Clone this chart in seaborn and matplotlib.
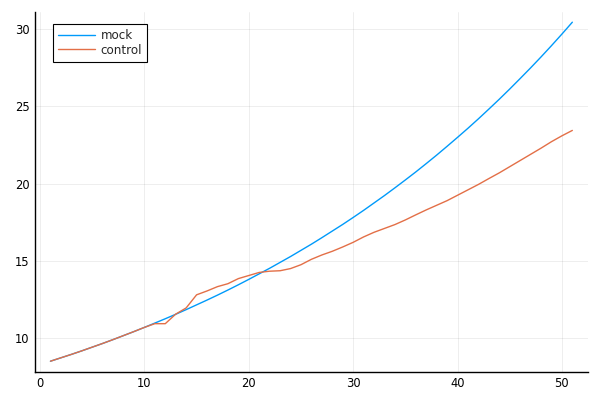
import numpy as np
import pandas as pd
import matplotlib
matplotlib.use("Agg")
import matplotlib.pyplot as plt
import seaborn as sns

# --- DATA ---
steps = list(range(1, 52))
mock = [8.50, 8.72, 8.94, 9.17, 9.41, 9.65, 9.90, 10.16, 10.42, 10.69,
        10.97, 11.25, 11.54, 11.84, 12.15, 12.46, 12.78, 13.11, 13.45, 13.80,
        14.16, 14.52, 14.90, 15.28, 15.68, 16.08, 16.50, 16.93, 17.36, 17.81,
        18.27, 18.75, 19.23, 19.73, 20.24, 20.76, 21.30, 21.85, 22.42, 23.00,
        23.59, 24.20, 24.83, 25.47, 26.13, 26.81, 27.50, 28.21, 28.94, 29.69,
        30.46]
control = [8.50, 8.72, 8.94, 9.17, 9.41, 9.65, 9.90, 10.16, 10.42, 10.69,
           10.93, 10.93, 11.55, 11.95, 12.80, 13.05, 13.33, 13.52, 13.85, 14.05,
           14.25, 14.33, 14.36, 14.50, 14.75, 15.10, 15.38, 15.62, 15.90, 16.20,
           16.55, 16.85, 17.10, 17.35, 17.65, 17.98, 18.30, 18.60, 18.90, 19.25,
           19.60, 19.95, 20.33, 20.70, 21.10, 21.50, 21.90, 22.30, 22.72, 23.10,
           23.45]
series_names = ["mock", "control"]
colors = ["#009AFA", "#E36F47"]

df = pd.DataFrame({
    "step": steps * 2,
    "value": mock + control,
    "series": [series_names[0]] * len(steps) + [series_names[1]] * len(steps),
})

# --- PLOT ---
sns.set_style("white")
plt.rcParams["font.family"] = ["DejaVu Sans"]

fig = plt.figure(figsize=(6, 4), dpi=100)
ax = fig.add_axes([35 / 600, 28.3 / 400, 553 / 600, 360 / 400])

sns.lineplot(data=df, x="step", y="value", hue="series",
             palette=dict(zip(series_names, colors)), linewidth=1.0, ax=ax)

ax.set_xlim(-0.48, 52.5)
ax.set_ylim(7.82, 31.14)
ax.set_xticks([0, 10, 20, 30, 40, 50])
ax.set_yticks([10, 15, 20, 25, 30])
ax.set_xlabel("")
ax.set_ylabel("")

ax.grid(True, color="black", alpha=0.08, linewidth=0.6)
for side in ["top", "right"]:
    ax.spines[side].set_visible(False)
for side in ["left", "bottom"]:
    ax.spines[side].set_color("black")
    ax.spines[side].set_linewidth(1.0)
ax.tick_params(direction="in", length=3, width=0.8, labelsize=8.3, colors="black", pad=4)

leg = ax.legend(loc="upper left", bbox_to_anchor=(0.033, 0.965), borderaxespad=0,
                fontsize=8.6, frameon=True, fancybox=False, framealpha=1,
                edgecolor="black", handlelength=3.1, handletextpad=0.45,
                labelspacing=0.1, borderpad=0.42)
leg.get_frame().set_linewidth(0.8)

fig.savefig("out.png", dpi=100)
